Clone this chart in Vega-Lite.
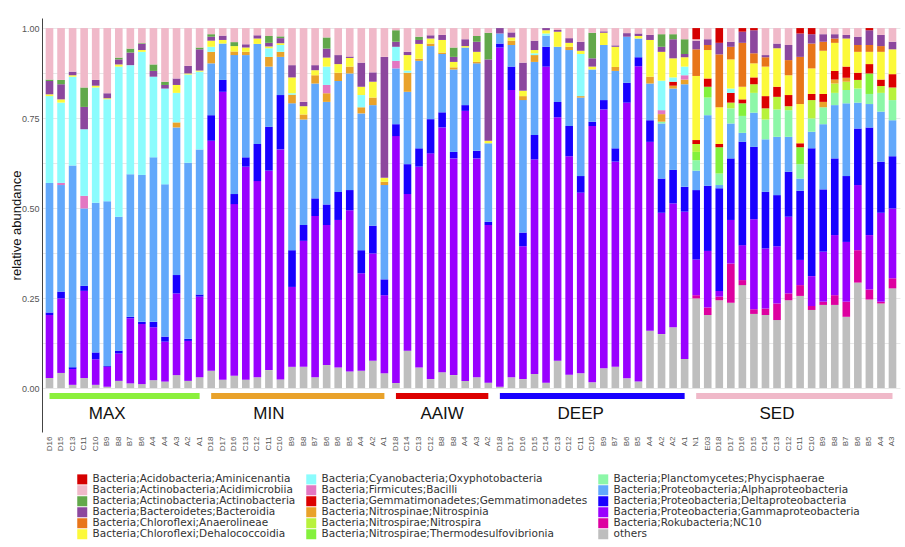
{
"$schema": "https://vega.github.io/schema/vega-lite/v6.json",
"autosize": {"type": "none"},
"width": 858,
"height": 414,
"padding": {"left": 42, "top": 18, "right": 5, "bottom": 115},
"background": "white",
"config": {"font": "Liberation Sans", "view": {"stroke": null}},
"datasets": {
"samples": [
{"id":"MAX D16","oth":0.028,"Gamm":0.175,"Delt":0.007,"Alph":0.36,"Cyan":0.241,"Deha":0.005,"Bact":0.037,"Actn":0.004,"Acid":0.143},
{"id":"MAX D15","oth":0.042,"Gamm":0.207,"Delt":0.019,"Alph":0.296,"Firm":0.006,"Cyan":0.223,"Deha":0.009,"Bact":0.042,"Actn":0.012,"Acid":0.144},
{"id":"MAX C13","oth":0.009,"Gamm":0.044,"Delt":0.005,"Alph":0.56,"Cyan":0.247,"Deha":0.004,"Bact":0.01,"Acid":0.121},
{"id":"MAX C11","oth":0.028,"Gamm":0.242,"Delt":0.014,"Alph":0.215,"Firm":0.035,"Cyan":0.185,"Bact":0.062,"Actn":0.054,"Acid":0.165},
{"id":"MAX C10","oth":0.009,"Gamm":0.071,"Delt":0.019,"Alph":0.416,"Cyan":0.32,"Deha":0.005,"Bact":0.016,"Acid":0.144},
{"id":"MAX B9","oth":0.004,"Gamm":0.055,"Delt":0.002,"Alph":0.458,"Cyan":0.283,"Deha":0.003,"Bact":0.014,"Acid":0.181},
{"id":"MAX B8","oth":0.02,"Gamm":0.076,"Delt":0.008,"Alph":0.372,"Cyan":0.417,"Deha":0.006,"Bact":0.014,"Actn":0.005,"Acid":0.082},
{"id":"MAX B7","oth":0.013,"Gamm":0.181,"Delt":0.004,"Alph":0.396,"Cyan":0.303,"Bact":0.035,"Actn":0.011,"Acid":0.057},
{"id":"MAX B6","oth":0.011,"Gamm":0.167,"Delt":0.006,"Alph":0.408,"Cyan":0.342,"Deha":0.005,"Bact":0.017,"Actn":0.002,"Acid":0.042},
{"id":"MAX A4","oth":0.022,"Gamm":0.147,"Delt":0.015,"Alph":0.457,"Cyan":0.224,"Bact":0.016,"Actn":0.018,"Acid":0.101},
{"id":"MAX A4 2","oth":0.018,"Gamm":0.111,"Delt":0.014,"Alph":0.423,"Cyan":0.266,"Bact":0.01,"Actn":0.009,"Acid":0.149},
{"id":"MAX A3","oth":0.036,"Gamm":0.227,"Delt":0.051,"Alph":0.41,"Nspn":0.014,"Cyan":0.082,"Deha":0.022,"Bact":0.018,"Acid":0.14},
{"id":"MAX A2","oth":0.02,"Gamm":0.111,"Delt":0.006,"Alph":0.489,"Cyan":0.245,"Deha":0.003,"Bact":0.021,"Acid":0.105},
{"id":"MAX A1","oth":0.03,"Gamm":0.224,"Delt":0.006,"Alph":0.403,"Cyan":0.216,"Deha":0.003,"Bact":0.059,"Actn":0.005,"Acid":0.054},
{"id":"MIN D18","oth":0.048,"Gamm":0.639,"Delt":0.071,"Alph":0.144,"Nspn":0.032,"Cyan":0.014,"Deha":0.017,"Bact":0.011,"Actn":0.007,"Acid":0.017},
{"id":"MIN D17","oth":0.023,"Gamm":0.8,"Delt":0.033,"Alph":0.101,"Deha":0.01,"Bact":0.012,"Acid":0.021},
{"id":"MIN D16","oth":0.034,"Gamm":0.477,"Delt":0.028,"Alph":0.386,"Nspn":0.01,"Deha":0.015,"Actn":0.011,"Acid":0.039},
{"id":"MIN C13","oth":0.023,"Gamm":0.592,"Delt":0.026,"Alph":0.284,"Nspn":0.009,"Deha":0.012,"Bact":0.009,"Acid":0.045},
{"id":"MIN C12","oth":0.03,"Gamm":0.545,"Delt":0.103,"Alph":0.278,"Deha":0.015,"Bact":0.009,"Acid":0.02},
{"id":"MIN C11","oth":0.05,"Gamm":0.554,"Delt":0.122,"Alph":0.167,"Nspn":0.027,"Cyan":0.024,"Deha":0.005,"Bact":0.01,"Actn":0.019,"Acid":0.022},
{"id":"MIN C10","oth":0.024,"Gamm":0.639,"Delt":0.151,"Alph":0.106,"Nspn":0.014,"Cyan":0.019,"Deha":0.005,"Bact":0.014,"Actn":0.005,"Acid":0.023},
{"id":"MIN B9","oth":0.059,"Gamm":0.222,"Delt":0.102,"Alph":0.408,"Nspn":0.024,"Cyan":0.004,"Deha":0.044,"Bact":0.034,"Acid":0.103},
{"id":"MIN B8","oth":0.059,"Gamm":0.35,"Delt":0.044,"Alph":0.293,"Nspn":0.014,"Deha":0.023,"Bact":0.012,"Acid":0.205},
{"id":"MIN B7","oth":0.03,"Gamm":0.448,"Delt":0.049,"Alph":0.319,"Nspn":0.023,"Deha":0.014,"Bact":0.014,"Acid":0.103},
{"id":"MIN B6","oth":0.064,"Gamm":0.389,"Delt":0.057,"Alph":0.285,"Nspn":0.024,"Firm":0.023,"Cyan":0.051,"Deha":0.025,"Bact":0.025,"Actn":0.031,"Acid":0.026},
{"id":"MIN B6 2","oth":0.057,"Gamm":0.41,"Delt":0.078,"Alph":0.308,"Nspn":0.023,"Deha":0.024,"Bact":0.025,"Acid":0.075},
{"id":"MIN B5","oth":0.046,"Gamm":0.448,"Delt":0.056,"Alph":0.324,"Nspn":0.019,"Deha":0.024,"Bact":0.004,"Acid":0.079},
{"id":"MIN A4","oth":0.048,"Gamm":0.271,"Delt":0.064,"Alph":0.38,"Nspn":0.017,"Cyan":0.034,"Deha":0.023,"Bact":0.067,"Acid":0.096},
{"id":"MIN A2","oth":0.076,"Gamm":0.298,"Delt":0.077,"Alph":0.335,"Nspn":0.021,"Deha":0.044,"Bact":0.026,"Acid":0.123},
{"id":"MIN A1","oth":0.041,"Gamm":0.217,"Delt":0.044,"Alph":0.262,"Nspn":0.009,"Deha":0.011,"Bact":0.336,"Acid":0.08},
{"id":"AAIW D18","oth":0.014,"Gamm":0.686,"Delt":0.033,"Alph":0.155,"Firm":0.021,"Cyan":0.039,"Bact":0.014,"Actn":0.032,"Acid":0.006},
{"id":"AAIW C14","oth":0.104,"Gamm":0.435,"Delt":0.083,"Alph":0.201,"Nspn":0.053,"Cyan":0.006,"Deha":0.043,"Bact":0.009,"Acid":0.066},
{"id":"AAIW C13","oth":0.057,"Gamm":0.558,"Delt":0.051,"Alph":0.243,"Nspn":0.006,"Deha":0.041,"Bact":0.011,"Actn":0.009,"Acid":0.024},
{"id":"AAIW C12","oth":0.025,"Gamm":0.627,"Delt":0.095,"Alph":0.203,"Nspn":0.007,"Deha":0.014,"Bact":0.009,"Acid":0.02},
{"id":"AAIW B8","oth":0.044,"Gamm":0.68,"Delt":0.042,"Alph":0.162,"Nspn":0.004,"Deha":0.035,"Bact":0.014,"Acid":0.019},
{"id":"AAIW B8 2","oth":0.036,"Gamm":0.602,"Delt":0.018,"Alph":0.229,"Nspn":0.006,"Deha":0.015,"Bact":0.014,"Actn":0.026,"Acid":0.054},
{"id":"AAIW A4","oth":0.02,"Gamm":0.75,"Delt":0.016,"Alph":0.16,"Deha":0.004,"Bact":0.019,"Acid":0.031},
{"id":"AAIW A3","oth":0.03,"Gamm":0.608,"Delt":0.021,"Alph":0.243,"Nspn":0.004,"Deha":0.028,"Bact":0.028,"Actn":0.016,"Acid":0.022},
{"id":"AAIW A2","oth":0.015,"Gamm":0.438,"Delt":0.009,"Alph":0.218,"Deha":0.007,"Bact":0.226,"Actn":0.074,"Acid":0.013},
{"id":"DEEP D18","oth":0.004,"Gamm":0.942,"Delt":0.011,"Alph":0.028,"Bact":0.015},
{"id":"DEEP D17","oth":0.03,"Gamm":0.798,"Delt":0.065,"Alph":0.06,"Nspn":0.012,"Deha":0.009,"Bact":0.014,"Acid":0.012},
{"id":"DEEP D16","oth":0.025,"Gamm":0.369,"Delt":0.038,"Alph":0.368,"Nspn":0.011,"Deha":0.015,"Bact":0.078,"Acid":0.096},
{"id":"DEEP D15","oth":0.039,"Gamm":0.596,"Delt":0.068,"Alph":0.203,"Nspn":0.019,"Cyan":0.005,"Deha":0.009,"Bact":0.026,"Acid":0.035},
{"id":"DEEP C14","oth":0.015,"Gamm":0.878,"Delt":0.055,"Alph":0.031,"Cyan":0.006,"Deha":0.009,"Bact":0.006},
{"id":"DEEP C13","oth":0.076,"Gamm":0.676,"Delt":0.043,"Alph":0.153,"Deha":0.042,"Bact":0.005,"Acid":0.005},
{"id":"DEEP C12","oth":0.037,"Gamm":0.607,"Delt":0.084,"Alph":0.211,"Nspn":0.009,"Deha":0.011,"Bact":0.013,"Acid":0.028},
{"id":"DEEP C11","oth":0.041,"Gamm":0.502,"Delt":0.046,"Alph":0.218,"Nspn":0.004,"Cyan":0.117,"Deha":0.009,"Bact":0.025,"Acid":0.038},
{"id":"DEEP C10","oth":0.016,"Gamm":0.712,"Delt":0.012,"Alph":0.145,"Deha":0.008,"Bact":0.023,"Actn":0.071,"Acid":0.013},
{"id":"DEEP B9","oth":0.055,"Gamm":0.719,"Delt":0.026,"Alph":0.153,"Deha":0.034,"Bact":0.004,"Acid":0.009},
{"id":"DEEP B7","oth":0.059,"Gamm":0.57,"Delt":0.037,"Alph":0.215,"Nspn":0.011,"Deha":0.056,"Bact":0.004,"Acid":0.048},
{"id":"DEEP B6","oth":0.027,"Gamm":0.766,"Delt":0.055,"Alph":0.128,"Bact":0.01,"Acid":0.014},
{"id":"DEEP B5","oth":0.018,"Gamm":0.876,"Delt":0.025,"Alph":0.052,"Deha":0.007,"Bact":0.007,"Acid":0.015},
{"id":"DEEP A4","oth":0.159,"Gamm":0.525,"Delt":0.06,"Alph":0.102,"Nspn":0.019,"Deha":0.102,"Bact":0.014,"Acid":0.019},
{"id":"DEEP A2","oth":0.15,"Gamm":0.337,"Delt":0.095,"Alph":0.153,"Plan":0.005,"Nspn":0.021,"Firm":0.011,"Cyan":0.082,"Deha":0.08,"Bact":0.014,"Actn":0.035,"Acid":0.017},
{"id":"DEEP A2 2","oth":0.169,"Gamm":0.344,"Delt":0.093,"Alph":0.226,"Nspn":0.008,"Gemm":0.011,"Cyan":0.012,"Deha":0.053,"Bact":0.053,"Actn":0.014,"Acid":0.017},
{"id":"DEEP A1","oth":0.081,"Gamm":0.409,"Delt":0.069,"Alph":0.285,"Nspn":0.013,"Firm":0.012,"Cyan":0.024,"Deha":0.026,"Bact":0.009,"Actn":0.041,"Acid":0.031},
{"id":"SED N1","oth":0.249,"Roku":0.009,"Gamm":0.099,"Delt":0.193,"Alph":0.054,"Plan":0.029,"Ther":0.023,"Nspr":0.022,"Gemm":0.011,"Deha":0.178,"Anae":0.074,"Bact":0.024,"Acid":0.004,"Amin":0.031},
{"id":"SED E03","oth":0.203,"Roku":0.021,"Gamm":0.157,"Delt":0.181,"Alph":0.196,"Plan":0.049,"Ther":0.03,"Gemm":0.023,"Deha":0.079,"Anae":0.014,"Bact":0.016,"Acid":0.031},
{"id":"SED D18","oth":0.244,"Roku":0.01,"Gamm":0.016,"Delt":0.285,"Alph":0.009,"Plan":0.032,"Ther":0.073,"Gemm":0.009,"Deha":0.102,"Anae":0.147,"Bact":0.032,"Amin":0.041},
{"id":"SED D17","oth":0.237,"Roku":0.109,"Gamm":0.121,"Delt":0.171,"Alph":0.097,"Plan":0.042,"Nspr":0.016,"Gemm":0.027,"Cyan":0.012,"Deha":0.081,"Anae":0.035,"Bact":0.014,"Acid":0.038},
{"id":"SED D16","oth":0.286,"Roku":0.014,"Gamm":0.097,"Delt":0.287,"Alph":0.025,"Plan":0.047,"Ther":0.035,"Gemm":0.011,"Deha":0.035,"Anae":0.122,"Bact":0.031,"Amin":0.01},
{"id":"SED D15","oth":0.206,"Roku":0.013,"Gamm":0.25,"Delt":0.201,"Alph":0.095,"Plan":0.055,"Nspr":0.024,"Gemm":0.019,"Deha":0.039,"Anae":0.028,"Bact":0.064,"Amin":0.006},
{"id":"SED C14","oth":0.203,"Roku":0.018,"Gamm":0.167,"Delt":0.157,"Alph":0.146,"Plan":0.055,"Nspr":0.031,"Gemm":0.034,"Deha":0.082,"Anae":0.026,"Bact":0.006,"Acid":0.075},
{"id":"SED C13","oth":0.189,"Roku":0.046,"Gamm":0.159,"Delt":0.142,"Alph":0.162,"Plan":0.076,"Nspr":0.035,"Gemm":0.028,"Deha":0.107,"Bact":0.013,"Acid":0.043},
{"id":"SED C12","oth":0.244,"Roku":0.019,"Gamm":0.213,"Delt":0.125,"Alph":0.097,"Plan":0.074,"Nspr":0.011,"Gemm":0.031,"Deha":0.055,"Anae":0.042,"Bact":0.042,"Acid":0.047},
{"id":"SED C11","oth":0.256,"Roku":0.03,"Gamm":0.07,"Delt":0.192,"Alph":0.034,"Plan":0.04,"Ther":0.047,"Gemm":0.011,"Deha":0.109,"Anae":0.131,"Bact":0.065,"Amin":0.015},
{"id":"SED C10","oth":0.217,"Roku":0.011,"Gamm":0.083,"Delt":0.355,"Alph":0.046,"Plan":0.037,"Nspr":0.051,"Gemm":0.017,"Deha":0.071,"Anae":0.069,"Bact":0.026,"Amin":0.017},
{"id":"SED B9","oth":0.231,"Roku":0.009,"Gamm":0.139,"Delt":0.173,"Alph":0.181,"Plan":0.047,"Nspn":0.015,"Gemm":0.022,"Deha":0.12,"Anae":0.025,"Bact":0.021,"Acid":0.017},
{"id":"SED B8","oth":0.231,"Roku":0.027,"Gamm":0.167,"Delt":0.213,"Alph":0.148,"Plan":0.034,"Nspr":0.026,"Nspn":0.011,"Gemm":0.024,"Deha":0.078,"Anae":0.012,"Bact":0.012,"Acid":0.017},
{"id":"SED B7","oth":0.198,"Roku":0.042,"Gamm":0.166,"Delt":0.183,"Alph":0.202,"Plan":0.037,"Nspr":0.023,"Nspn":0.011,"Gemm":0.031,"Deha":0.078,"Bact":0.01,"Acid":0.019},
{"id":"SED B6","oth":0.293,"Roku":0.09,"Gamm":0.181,"Delt":0.157,"Alph":0.072,"Plan":0.039,"Nspr":0.024,"Gemm":0.02,"Deha":0.058,"Anae":0.019,"Bact":0.023,"Acid":0.024},
{"id":"SED B5","oth":0.246,"Roku":0.028,"Gamm":0.151,"Delt":0.299,"Alph":0.065,"Plan":0.028,"Ther":0.057,"Gemm":0.026,"Deha":0.034,"Anae":0.019,"Bact":0.041,"Amin":0.006},
{"id":"SED A4","oth":0.235,"Roku":0.005,"Gamm":0.247,"Delt":0.142,"Alph":0.139,"Plan":0.052,"Nspr":0.019,"Gemm":0.018,"Deha":0.077,"Anae":0.016,"Bact":0.031,"Acid":0.019},
{"id":"SED A3","oth":0.277,"Roku":0.028,"Gamm":0.194,"Delt":0.145,"Alph":0.1,"Plan":0.056,"Nspr":0.035,"Gemm":0.037,"Deha":0.069,"Bact":0.021,"Acid":0.038}
],
"taxa": [
{"k":"Amin","name":"Bacteria;Acidobacteria;Aminicenantia"},
{"k":"Acid","name":"Bacteria;Actinobacteria;Acidimicrobiia"},
{"k":"Actn","name":"Bacteria;Actinobacteria;Actinobacteria"},
{"k":"Bact","name":"Bacteria;Bacteroidetes;Bacteroidia"},
{"k":"Anae","name":"Bacteria;Chloroflexi;Anaerolineae"},
{"k":"Deha","name":"Bacteria;Chloroflexi;Dehalococcoidia"},
{"k":"Cyan","name":"Bacteria;Cyanobacteria;Oxyphotobacteria"},
{"k":"Firm","name":"Bacteria;Firmicutes;Bacilli"},
{"k":"Gemm","name":"Bacteria;Gemmatimonadetes;Gemmatimonadetes"},
{"k":"Nspn","name":"Bacteria;Nitrospinae;Nitrospinia"},
{"k":"Nspr","name":"Bacteria;Nitrospirae;Nitrospira"},
{"k":"Ther","name":"Bacteria;Nitrospirae;Thermodesulfovibrionia"},
{"k":"Plan","name":"Bacteria;Planctomycetes;Phycisphaerae"},
{"k":"Alph","name":"Bacteria;Proteobacteria;Alphaproteobacteria"},
{"k":"Delt","name":"Bacteria;Proteobacteria;Deltaproteobacteria"},
{"k":"Gamm","name":"Bacteria;Proteobacteria;Gammaproteobacteria"},
{"k":"Roku","name":"Bacteria;Rokubacteria;NC10"},
{"k":"oth","name":"others"}
],
"groups": [
{"g":"MAX","first":"MAX D16","last":"MAX A1","mid":"MAX B9"},
{"g":"MIN","first":"MIN D18","last":"MIN A1","mid":"MIN C11"},
{"g":"AAIW","first":"AAIW D18","last":"AAIW A2","mid":"AAIW B8"},
{"g":"DEEP","first":"DEEP D18","last":"DEEP A1","mid":"DEEP C11"},
{"g":"SED","first":"SED N1","last":"SED A3","mid":"SED C13"}
]
},
"layer": [
{
"data": {"name": "samples"},
"transform": [
{"fold": ["oth","Roku","Gamm","Delt","Alph","Plan","Ther","Nspr","Nspn","Gemm","Firm","Cyan","Deha","Anae","Bact","Actn","Acid","Amin"], "as": ["k","v"]},
{"filter": "isValid(datum.v)"},
{"lookup": "k", "from": {"data": {"name": "taxa"}, "key": "k", "fields": ["name"]}}
],
"mark": {"type": "bar"},
"encoding": {
"x": {"field": "id", "type": "nominal",
"scale": {"paddingInner": 0.34, "paddingOuter": 0.32,
"domain": ["MAX D16","MAX D15","MAX C13","MAX C11","MAX C10","MAX B9","MAX B8","MAX B7","MAX B6","MAX A4","MAX A4 2","MAX A3","MAX A2","MAX A1","MIN D18","MIN D17","MIN D16","MIN C13","MIN C12","MIN C11","MIN C10","MIN B9","MIN B8","MIN B7","MIN B6","MIN B6 2","MIN B5","MIN A4","MIN A2","MIN A1","AAIW D18","AAIW C14","AAIW C13","AAIW C12","AAIW B8","AAIW B8 2","AAIW A4","AAIW A3","AAIW A2","DEEP D18","DEEP D17","DEEP D16","DEEP D15","DEEP C14","DEEP C13","DEEP C12","DEEP C11","DEEP C10","DEEP B9","DEEP B7","DEEP B6","DEEP B5","DEEP A4","DEEP A2","DEEP A2 2","DEEP A1","SED N1","SED E03","SED D18","SED D17","SED D16","SED D15","SED C14","SED C13","SED C12","SED C11","SED C10","SED B9","SED B8","SED B7","SED B6","SED B5","SED A4","SED A3"]},
"axis": {"title": null, "labelAngle": 270, "labelFontSize": 8, "labelColor": "#555555", "ticks": false, "domain": false, "labelPadding": 4, "grid": false, "labelExpr": "split(datum.label, ' ')[1]"}},
"y": {"field": "v", "type": "quantitative", "stack": "zero",
"scale": {"domain": [-0.122, 1.028], "nice": false, "zero": false},
"axis": {"values": [0,0.125,0.25,0.375,0.5,0.625,0.75,0.875,1], "labelExpr": "datum.value % 0.25 == 0 ? format(datum.value, '.2f') : ''", "grid": true, "gridColor": "#e2e2e2", "gridWidth": 0.8, "ticks": false, "domainColor": "#444444", "labelColor": "#555555", "labelFontSize": 9, "labelPadding": 3, "title": "relative abundance", "titleFontSize": 13, "titleFontWeight": "normal", "titleColor": "#111111", "titlePadding": -2}},
"color": {"field": "name", "type": "nominal",
"scale": {
"domain": ["Bacteria;Acidobacteria;Aminicenantia","Bacteria;Actinobacteria;Acidimicrobiia","Bacteria;Actinobacteria;Actinobacteria","Bacteria;Bacteroidetes;Bacteroidia","Bacteria;Chloroflexi;Anaerolineae","Bacteria;Chloroflexi;Dehalococcoidia","Bacteria;Cyanobacteria;Oxyphotobacteria","Bacteria;Firmicutes;Bacilli","Bacteria;Gemmatimonadetes;Gemmatimonadetes","Bacteria;Nitrospinae;Nitrospinia","Bacteria;Nitrospirae;Nitrospira","Bacteria;Nitrospirae;Thermodesulfovibrionia","Bacteria;Planctomycetes;Phycisphaerae","Bacteria;Proteobacteria;Alphaproteobacteria","Bacteria;Proteobacteria;Deltaproteobacteria","Bacteria;Proteobacteria;Gammaproteobacteria","Bacteria;Rokubacteria;NC10","others"],
"range": ["#d50000","#f0b9c9","#62a84b","#8c479e","#e8751a","#fcf93a","#8bfcfd","#e377c2","#dc0000","#e9a22a","#b8f23c","#84f13c","#8cf7a8","#62a8fb","#1800ff","#9900ff","#dd00a0","#bebebe"]},
"legend": {"title": null, "orient": "none", "legendX": 35, "legendY": 456, "columns": 3, "symbolType": "square", "symbolSize": 100, "symbolStrokeWidth": 0, "labelFont": "DejaVu Sans", "labelFontSize": 10.5, "labelColor": "#333333", "rowPadding": 0, "columnPadding": 10, "labelOffset": 5, "labelLimit": 400, "padding": 0}},
"order": {"field": "name", "sort": "descending"}
}
},
{
"data": {"name": "groups"},
"mark": {"type": "rule", "strokeWidth": 6},
"encoding": {
"x": {"field": "first", "type": "nominal", "bandPosition": 0.5},
"x2": {"field": "last", "bandPosition": 0.5},
"y": {"datum": -0.022},
"stroke": {"field": "g", "type": "nominal", "scale": {"domain": ["MAX","MIN","AAIW","DEEP","SED"], "range": ["#8cf03c","#e9a22a","#dc0000","#1800ff","#f0b9c9"]}, "legend": null}
}
},
{
"data": {"name": "groups"},
"mark": {"type": "text", "fontSize": 17, "color": "#111111", "baseline": "middle", "align": "center"},
"encoding": {
"x": {"field": "mid", "type": "nominal"},
"y": {"datum": -0.0715},
"text": {"field": "g"}
}
}
]
}
